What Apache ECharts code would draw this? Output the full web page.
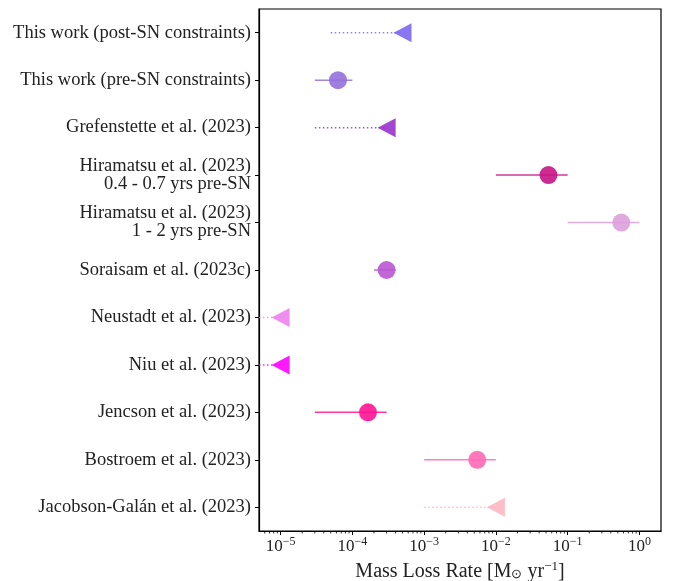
<!DOCTYPE html>
<html>
<head>
<meta charset="utf-8">
<script src="https://cdn.jsdelivr.net/npm/echarts@6/dist/echarts.min.js"></script>
<style>
html,body{margin:0;padding:0;background:#fff}
#chart{width:673px;height:581px}
</style>
</head>
<body>
<div id="chart"></div>
<script>
// rows, top to bottom
const labels = [
    'This work (post-SN constraints)',
    'This work (pre-SN constraints)',
    'Grefenstette et al. (2023)',
    'Hiramatsu et al. (2023)\n0.4 - 0.7 yrs pre-SN',
    'Hiramatsu et al. (2023)\n1 - 2 yrs pre-SN',
    'Soraisam et al. (2023c)',
    'Neustadt et al. (2023)',
    'Niu et al. (2023)',
    'Jencson et al. (2023)',
    'Bostroem et al. (2023)',
    'Jacobson-Galán et al. (2023)'
]
const values  = [5e-4, 6.3e-5, 3e-4, 0.054, 0.56, 3e-4, 1e-5, 1e-5, 1.65e-4, 5.5e-3, 1e-2]
const lowErr  = [5e-5, 3e-5, 3e-5, 0.01, 0.1, 2e-4, 1e-6, 1e-6, 3e-5, 1e-3, 1e-3]
const highErr = [5e-4, 1e-4, 3e-4, 0.1, 1.0, 4e-4, 1e-5, 1e-5, 3e-4, 1e-2, 1e-2]
const isLimit = [true, false, true, false, false, false, true, true, false, false, true]
const colors  = ['#7B68EE', '#9370DB', '#9932CC', '#C71585', '#DDA0DD', '#BA55D3',
                 '#EE82EE', '#FF00FF', '#FF1493', '#FF69B4', '#FFB6C1']
// minor ticks of the log axis
const decadeExps = [-6, -5, -4, -3, -2, -1, 0]
const minorMults = [2, 3, 4, 5, 6, 7, 8, 9]
const xMin = 5e-6, xMax = 2

const FONT = 'Liberation Serif'

let minorTicks = []
decadeExps.forEach(e => minorMults.forEach(m => {
    const v = m * Math.pow(10, e)
    if (v > xMin && v < xMax) minorTicks.push([v, 0])
}))

const circles = [], triangles = []
values.forEach((v, i) => {
    const item = {value: [v, i], itemStyle: {color: colors[i]}}
    if (isLimit[i]) triangles.push(item); else circles.push(item)
})

const myChart = echarts.init(document.getElementById('chart'))
const option = {
    animation: false,
    grid: {left: 259, top: 9, width: 402, height: 522, outerBoundsMode: 'none', containLabel: false,
           show: true, borderColor: '#000', borderWidth: 1.2},
    xAxis: {
        type: 'log', logBase: 10, min: xMin, max: xMax,
        axisLine: {show: true, lineStyle: {color: '#000', width: 1.2}},
        axisTick: {show: true, length: 4, lineStyle: {color: '#000', width: 1}},
        splitLine: {show: false},
        axisLabel: {
            showMinLabel: false, showMaxLabel: false, margin: 5,
            formatter: v => '{b|10}{s|' + Math.round(Math.log10(v)).toString().replace('-', '−') + '}',
            rich: {
                b: {fontFamily: FONT, fontSize: 17, color: '#222'},
                s: {fontFamily: FONT, fontSize: 12, color: '#222', padding: [0, 0, 10, 0]}
            }
        },
        name: 'Mass Loss Rate [M{sub|⊙} yr{sup|−1}]',
        nameLocation: 'middle', nameGap: 27,
        nameTextStyle: {
            fontFamily: FONT, fontSize: 20, color: '#222',
            rich: {
                sub: {fontFamily: FONT, fontSize: 13, color: '#222', padding: [6, 0, 0, 0]},
                sup: {fontFamily: FONT, fontSize: 13, color: '#222', padding: [0, 0, 10, 0]}
            }
        }
    },
    yAxis: {
        type: 'category', data: labels, inverse: true,
        axisLine: {show: true, lineStyle: {color: '#000', width: 1.2}},
        axisTick: {show: true, alignWithLabel: true, length: 4, lineStyle: {color: '#000'}},
        axisLabel: {fontFamily: FONT, fontSize: 18.5, color: '#222', margin: 8, lineHeight: 18}
    },
    series: [
        {
            type: 'custom', name: 'errors', clip: true,
            encode: {x: [0, 1], y: 2},
            data: labels.map((l, i) => [lowErr[i], highErr[i], i]),
            renderItem: (params, api) => {
                const i = api.value(2)
                const p0 = api.coord([api.value(0), i])
                const p1 = api.coord([api.value(1), i])
                const left = Math.max(p0[0], params.coordSys.x)
                return {
                    type: 'line', z2: 1,
                    shape: {x1: left, y1: p0[1], x2: p1[0], y2: p1[1]},
                    style: {stroke: colors[i], lineWidth: 1.5, opacity: 0.85,
                            lineDash: isLimit[i] ? [1.5, 2.5] : null}
                }
            }
        },
        {
            type: 'scatter', name: 'measured', symbol: 'circle', symbolSize: 18,
            itemStyle: {opacity: 0.9}, data: circles, z: 3
        },
        {
            type: 'scatter', name: 'limits', symbol: 'triangle', symbolSize: [19, 18], symbolRotate: 90,
            itemStyle: {opacity: 0.9}, data: triangles, z: 3
        },
        {
            type: 'custom', name: 'minor ticks', silent: true,
            encode: {x: 0, y: 1},
            data: minorTicks,
            renderItem: (params, api) => {
                const p = api.coord([api.value(0), 0])
                const bottom = params.coordSys.y + params.coordSys.height
                return {
                    type: 'line',
                    shape: {x1: p[0], y1: bottom, x2: p[0], y2: bottom + 2.5},
                    style: {stroke: '#000', lineWidth: 0.8}
                }
            }
        }
    ]
}
myChart.setOption(option)
</script>
</body>
</html>
